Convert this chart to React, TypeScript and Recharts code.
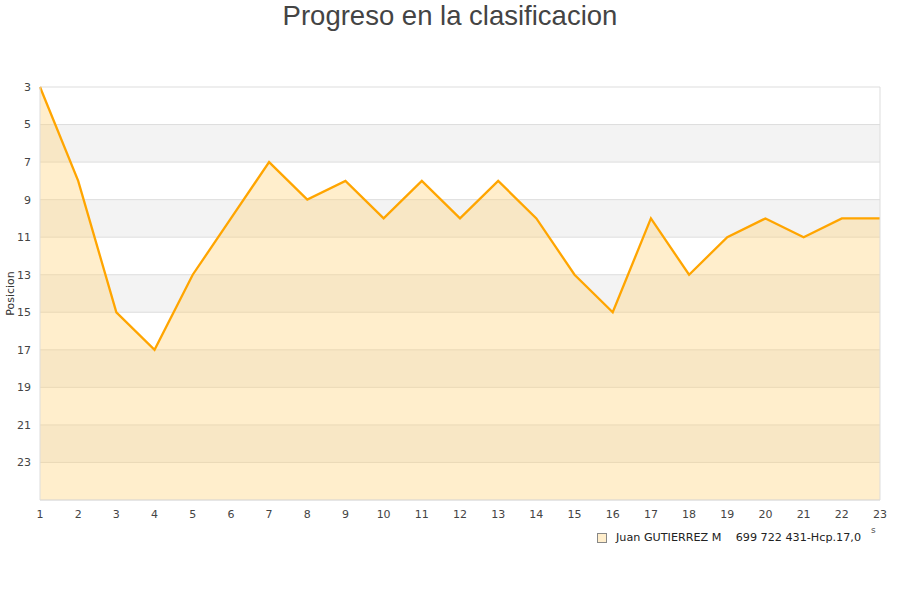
import React from 'react';
import { ComposedChart, Area, XAxis, YAxis, CartesianGrid, ReferenceLine, Legend } from 'recharts';

const rounds = [1, 2, 3, 4, 5, 6, 7, 8, 9, 10, 11, 12, 13, 14, 15, 16, 17, 18, 19, 20, 21, 22, 23];
const positions = [3, 8, 15, 17, 13, 10, 7, 9, 8, 10, 8, 10, 8, 10, 13, 15, 10, 13, 11, 10, 11, 10, 10];
const yTicks = [3, 5, 7, 9, 11, 13, 15, 17, 19, 21, 23];
const seriesName = 'Juan GUTIERREZ M    699 722 431-Hcp.17,0';
const chartTitle = 'Progreso en la clasificacion';
const yTitle = 'Posicion';

const data = rounds.map((r, i) => ({ round: r, pos: positions[i] }));

const FONT = '"DejaVu Sans", sans-serif';

const LegendContent = () => (
  <div style={{ display: 'flex', alignItems: 'center', fontFamily: FONT, fontSize: 11.2, color: '#222', whiteSpace: 'pre' }}>
    <span style={{ display: 'inline-block', width: 8, height: 8, background: '#ffeecc', border: '1px solid #888', marginRight: 9 }} />
    <span>{seriesName}</span>
  </div>
);

const YTitle = ({ viewBox }: any) => {
  const cy = viewBox.y + viewBox.height / 2;
  return (
    <text
      x={10}
      y={cy}
      transform={`rotate(-90, 10, ${cy})`}
      textAnchor="middle"
      dominantBaseline="central"
      style={{ fontSize: 11, fill: '#333', fontFamily: FONT }}
    >
      {yTitle}
    </text>
  );
};

export default function App() {
  return (
    <div style={{ position: 'absolute', left: 0, top: 0, width: 900, height: 600, background: '#fff' }}>
      <div style={{ position: 'absolute', left: 0, top: 0, width: 900, textAlign: 'center', fontFamily: '"Liberation Sans", Arial, sans-serif', fontSize: 27.5, color: '#444', lineHeight: '32px' }}>
        {chartTitle}
      </div>
      <div style={{ position: 'absolute', left: 871, top: 525, fontFamily: FONT, fontSize: 9, color: '#555' }}>s</div>
      <ComposedChart width={900} height={600} data={data} margin={{ top: 87, right: 20, bottom: 70, left: 0 }}>
        <CartesianGrid vertical={false} stroke="#dddddd" horizontalFill={['#ffffff', '#f3f3f3']} fillOpacity={1} />
        <XAxis
          dataKey="round"
          type="number"
          domain={[1, 23]}
          ticks={rounds}
          interval={0}
          height={17}
          tickLine={false}
          axisLine={{ stroke: '#dddddd' }}
          tick={{ fontSize: 11, fill: '#444', fontFamily: FONT }}
          tickMargin={4}
        />
        <YAxis
          type="number"
          domain={[3, 25]}
          reversed
          ticks={yTicks}
          interval={0}
          width={40}
          tickLine={false}
          axisLine={{ stroke: '#dddddd' }}
          tick={{ fontSize: 11, fill: '#444', fontFamily: FONT }}
          tickMargin={3}
          label={<YTitle />}
        />
        <ReferenceLine x={23} stroke="#dddddd" />
        <Area
          type="linear"
          dataKey="pos"
          name={seriesName}
          baseValue="dataMax"
          stroke="#ffa500"
          strokeWidth={2.3}
          fill="#ffd480"
          fillOpacity={0.4}
          dot={false}
          activeDot={false}
          isAnimationActive={false}
        />
        <Legend content={<LegendContent />} wrapperStyle={{ position: 'absolute', left: 597, top: 531, width: 'auto' }} />
      </ComposedChart>
    </div>
  );
}
